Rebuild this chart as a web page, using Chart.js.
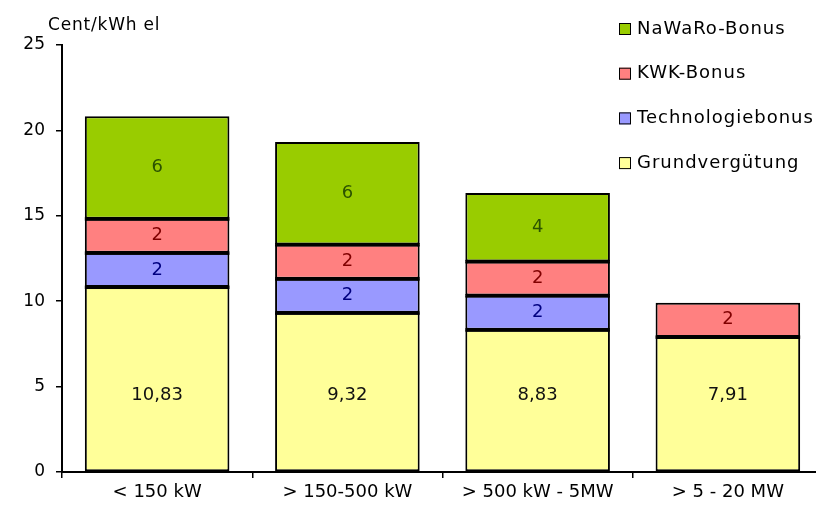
<!DOCTYPE html>
<html>
<head>
<meta charset="utf-8">
<script src="https://cdn.jsdelivr.net/npm/chart.js@4/dist/chart.umd.min.js"></script>
<style>
  html, body { margin: 0; padding: 0; background: #fff; overflow: hidden; }
  #wrap { width: 816px; height: 512px; overflow: hidden; position: relative; }
  canvas { display: block; }
</style>
</head>
<body>
<div id="wrap"><canvas id="c" width="830" height="512"></canvas></div>
<script>
// ---- data ----
const categories = ['< 150 kW', '> 150-500 kW', '> 500 kW - 5MW', '> 5 - 20 MW'];
const grundverguetung = [10.83, 9.32, 8.33, 7.91];
const grundLabels = ['10,83', '9,32', '8,83', '7,91'];
const technologiebonus = [2, 2, 2, null];
const kwkBonus = [2, 2, 2, 2];
const nawaroBonus = [6, 6, 4, null];
const yTicks = [0, 5, 10, 15, 20, 25];
const yTitle = 'Cent/kWh el';

const FONT = '"DejaVu Sans", sans-serif';

const datasets = [
  { label: 'Grundvergütung', data: grundverguetung, backgroundColor: '#FFFF99', textColor: '#111111', labels: grundLabels },
  { label: 'Technologiebonus', data: technologiebonus, backgroundColor: '#9999FF', textColor: '#000080' },
  { label: 'KWK-Bonus', data: kwkBonus, backgroundColor: '#FF8080', textColor: '#800000' },
  { label: 'NaWaRo-Bonus', data: nawaroBonus, backgroundColor: '#99CC00', textColor: '#2b5200' }
].map(d => Object.assign({
  borderColor: '#000',
  borderWidth: 2,
  borderSkipped: false,
  inflateAmount: 0,
  categoryPercentage: 1.0,
  barPercentage: 0.76
}, d));

const labelPlugin = {
  id: 'segLabels',
  afterDatasetsDraw(chart) {
    const ctx = chart.ctx;
    const yScale = chart.scales.y;
    ctx.save();
    ctx.font = '18px ' + FONT;
    ctx.textAlign = 'center';
    ctx.textBaseline = 'middle';
    chart.data.datasets.forEach((ds, i) => {
      const meta = chart.getDatasetMeta(i);
      meta.data.forEach((el, j) => {
        const v = ds.data[j];
        if (v === null || v === undefined) return;
        let y, txt;
        if (ds.labels) {
          y = yScale.getPixelForValue(4.5);
          txt = ds.labels[j];
        } else {
          y = (el.y + el.base) / 2;
          txt = String(v).replace('.', ',');
        }
        ctx.fillStyle = ds.textColor;
        ctx.fillText(txt, el.x, y);
      });
    });
    ctx.restore();
  }
};

// thick black separators between stacked segments (as in the reference)
const sepPlugin = {
  id: 'segSeparators',
  afterDatasetsDraw(chart) {
    const ctx = chart.ctx;
    const all = chart.data.datasets;
    ctx.save();
    ctx.fillStyle = '#000';
    all.forEach((ds, i) => {
      const meta = chart.getDatasetMeta(i);
      meta.data.forEach((el, j) => {
        const v = ds.data[j];
        if (v === null || v === undefined) return;
        const hasAbove = all.slice(i + 1).some(d => d.data[j] !== null && d.data[j] !== undefined);
        if (!hasAbove) return;
        const half = el.width / 2;
        ctx.fillRect(el.x - half, el.y - 1.5, el.width, 3.5);
      });
    });
    ctx.restore();
  }
};

const legendPlugin = {
  id: 'customLegend',
  afterDraw(chart) {
    const ctx = chart.ctx;
    const ds = chart.data.datasets.slice().reverse();
    ctx.save();
    ctx.font = '18px ' + FONT;
    try { ctx.letterSpacing = '1px'; } catch (e) {}
    ctx.textBaseline = 'middle';
    ctx.textAlign = 'left';
    ds.forEach((d, i) => {
      const cy = 29 + i * 44.7;
      ctx.fillStyle = d.backgroundColor;
      ctx.fillRect(619, cy - 6, 12, 12);
      ctx.strokeStyle = '#000';
      ctx.lineWidth = 1;
      ctx.strokeRect(619.5, cy - 5.5, 11, 11);
      ctx.fillStyle = '#000';
      ctx.fillText(d.label, 637, cy);
    });
    // y axis title
    ctx.font = '17px ' + FONT;
    try { ctx.letterSpacing = '0.8px'; } catch (e) {}
    ctx.fillText(yTitle, 48, 26);
    ctx.restore();
  }
};

new Chart(document.getElementById('c'), {
  type: 'bar',
  data: { labels: categories, datasets },
  options: {
    responsive: false,
    animation: false,
    devicePixelRatio: 1,
    layout: { padding: { top: 45, right: 7, left: 0, bottom: 0 } },
    plugins: { legend: { display: false }, tooltip: { enabled: false } },
    scales: {
      x: {
        stacked: true,
        offset: true,
        grid: { display: true, drawOnChartArea: false, offset: true, tickLength: 6, color: '#000', lineWidth: 1.5 },
        border: { color: '#000', width: 2 },
        ticks: { font: { family: FONT, size: 18 }, color: '#000', padding: 4, maxRotation: 0 },
        afterFit(s) { s.height = 40; }
      },
      y: {
        stacked: true,
        min: 0, max: 25,
        afterBuildTicks(s) { s.ticks = yTicks.map(v => ({ value: v })); },
        grid: { display: true, drawOnChartArea: false, tickLength: 6, color: '#000', lineWidth: 1.5 },
        border: { color: '#000', width: 2 },
        ticks: { font: { family: FONT, size: 17 }, color: '#000', padding: 11 },
        afterFit(s) { s.width = 62; }
      }
    }
  },
  plugins: [sepPlugin, labelPlugin, legendPlugin]
});
</script>
</body>
</html>
